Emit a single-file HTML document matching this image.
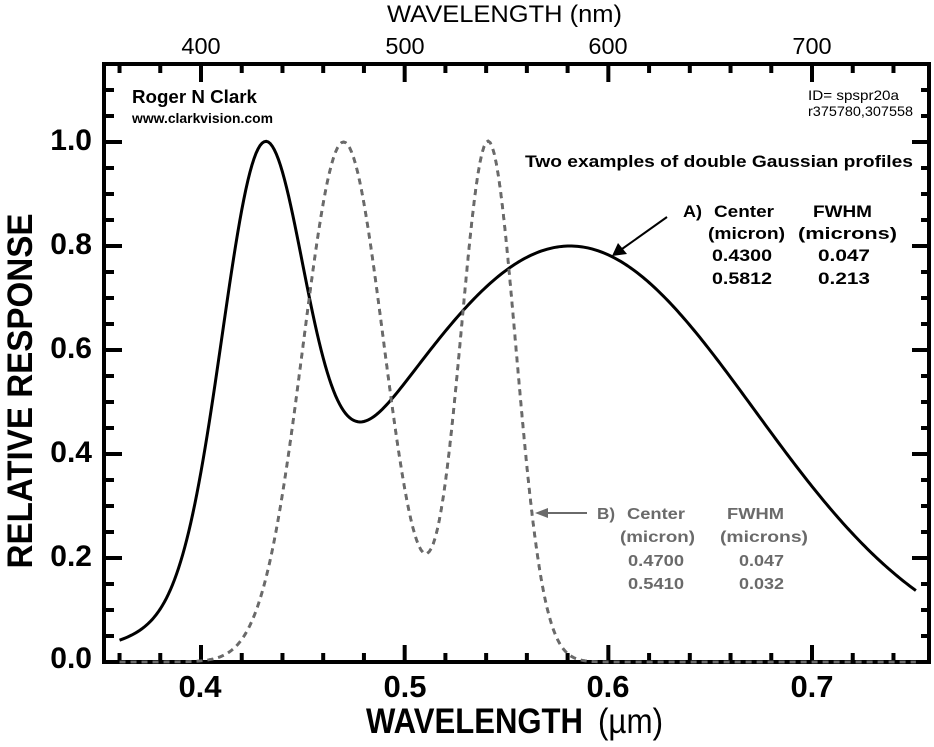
<!DOCTYPE html>
<html>
<head>
<meta charset="utf-8">
<style>
  html,body{margin:0;padding:0;background:#fff;}
  svg{display:block;}
  text{font-family:"Liberation Sans",Arial,Helvetica,sans-serif;}
  .b{font-weight:bold;}
</style>
</head>
<body>
<svg id="s" width="934" height="747" viewBox="0 0 934 747" xmlns="http://www.w3.org/2000/svg">
  <rect x="0" y="0" width="934" height="747" fill="#fff"/>
  <g id="ticks" stroke="#000" stroke-width="4" fill="none"></g>
  <path id="curveB" d="" fill="none" stroke="#6a6a6a" stroke-width="2.8" stroke-dasharray="6 5"/>
  <path id="curveA" d="" fill="none" stroke="#000" stroke-width="3"/>
  <rect x="104" y="64" width="825" height="598" fill="none" stroke="#000" stroke-width="4"/>
  <g id="bdash"></g>

  <!-- top axis -->
  <text x="387" y="22" font-size="24" textLength="235" lengthAdjust="spacingAndGlyphs">WAVELENGTH (nm)</text>
  <text x="201" y="54" font-size="23.5" text-anchor="middle">400</text>
  <text x="405" y="54" font-size="23.5" text-anchor="middle">500</text>
  <text x="608" y="54" font-size="23.5" text-anchor="middle">600</text>
  <text x="812" y="54" font-size="23.5" text-anchor="middle">700</text>

  <!-- bottom axis -->
  <text class="b" x="200" y="697" font-size="31" text-anchor="middle">0.4</text>
  <text class="b" x="405" y="697" font-size="31" text-anchor="middle">0.5</text>
  <text class="b" x="608" y="697" font-size="31" text-anchor="middle">0.6</text>
  <text class="b" x="812" y="697" font-size="31" text-anchor="middle">0.7</text>
  <text class="b" x="366" y="733" font-size="35" textLength="217" lengthAdjust="spacingAndGlyphs">WAVELENGTH</text>
  <text x="598" y="733" font-size="35" textLength="65" lengthAdjust="spacingAndGlyphs">(µm)</text>

  <!-- left axis -->
  <text class="b" x="92" y="150" font-size="30" text-anchor="end">1.0</text>
  <text class="b" x="92" y="254" font-size="30" text-anchor="end">0.8</text>
  <text class="b" x="92" y="358" font-size="30" text-anchor="end">0.6</text>
  <text class="b" x="92" y="462" font-size="30" text-anchor="end">0.4</text>
  <text class="b" x="92" y="566" font-size="30" text-anchor="end">0.2</text>
  <text class="b" x="92" y="668" font-size="30" text-anchor="end">0.0</text>
  <text class="b" transform="translate(32,391) rotate(-90)" font-size="35" text-anchor="middle" textLength="355" lengthAdjust="spacingAndGlyphs">RELATIVE RESPONSE</text>

  <!-- annotations -->
  <text class="b" x="132" y="103" font-size="18" textLength="125" lengthAdjust="spacingAndGlyphs">Roger N Clark</text>
  <text class="b" x="132" y="123" font-size="13.5" textLength="141" lengthAdjust="spacingAndGlyphs">www.clarkvision.com</text>
  <text x="808" y="100" font-size="14" textLength="91" lengthAdjust="spacingAndGlyphs">ID= spspr20a</text>
  <text x="808" y="116" font-size="14" textLength="105" lengthAdjust="spacingAndGlyphs">r375780,307558</text>
  <text class="b" x="525" y="167" font-size="17" textLength="388" lengthAdjust="spacingAndGlyphs">Two examples of double Gaussian profiles</text>

  <!-- legend A -->
  <g class="b" font-size="16.5" fill="#000">
    <text x="683" y="217" textLength="19" lengthAdjust="spacingAndGlyphs">A)</text>
    <text x="714" y="217" textLength="60" lengthAdjust="spacingAndGlyphs">Center</text>
    <text x="813" y="217" textLength="59" lengthAdjust="spacingAndGlyphs">FWHM</text>
    <text x="708" y="239" textLength="77" lengthAdjust="spacingAndGlyphs">(micron)</text>
    <text x="798" y="239" textLength="99" lengthAdjust="spacingAndGlyphs">(microns)</text>
    <text x="712" y="261" textLength="60" lengthAdjust="spacingAndGlyphs">0.4300</text>
    <text x="818" y="261" textLength="52" lengthAdjust="spacingAndGlyphs">0.047</text>
    <text x="712" y="284" textLength="60" lengthAdjust="spacingAndGlyphs">0.5812</text>
    <text x="818" y="284" textLength="52" lengthAdjust="spacingAndGlyphs">0.213</text>
  </g>
  <line x1="667" y1="217" x2="622" y2="249" stroke="#000" stroke-width="2"/>
  <polygon points="612,256 618,243 627,254" fill="#000"/>

  <!-- legend B -->
  <g class="b" font-size="16" fill="#6a6a6a">
    <text x="597" y="519" textLength="18" lengthAdjust="spacingAndGlyphs">B)</text>
    <text x="627" y="519" textLength="58" lengthAdjust="spacingAndGlyphs">Center</text>
    <text x="727" y="519" textLength="57" lengthAdjust="spacingAndGlyphs">FWHM</text>
    <text x="620" y="542" textLength="75" lengthAdjust="spacingAndGlyphs">(micron)</text>
    <text x="720" y="542" textLength="88" lengthAdjust="spacingAndGlyphs">(microns)</text>
    <text x="628" y="566" textLength="56" lengthAdjust="spacingAndGlyphs">0.4700</text>
    <text x="739" y="566" textLength="45" lengthAdjust="spacingAndGlyphs">0.047</text>
    <text x="628" y="589" textLength="56" lengthAdjust="spacingAndGlyphs">0.5410</text>
    <text x="739" y="589" textLength="45" lengthAdjust="spacingAndGlyphs">0.032</text>
  </g>
  <line x1="587" y1="513" x2="546" y2="513" stroke="#6a6a6a" stroke-width="2"/>
  <polygon points="535,513 548,508 548,518" fill="#6a6a6a"/>
</svg>
<script>
(function(){
  var X=function(u){return 201+(u-0.4)*2036.7;};
  var Y=function(v){return 662-v*520;};
  function G(x,c,f){var s=f/2.35482;var z=(x-c)/s;return Math.exp(-0.5*z*z);}
  var dA="",dB="";
  for(var i=0;i<=391;i++){
    var u=0.36+i*0.001;
    var a=0.8*(G(u,0.43,0.047)+G(u,0.5812,0.213));
    var b=G(u,0.47,0.047)+G(u,0.541,0.032);
    dA+=(i?"L":"M")+X(u).toFixed(2)+","+Y(a).toFixed(2);
    dB+=(i?"L":"M")+X(u).toFixed(2)+","+Math.min(Y(b),662.5).toFixed(2);
  }
  document.getElementById("curveA").setAttribute("d",dA);
  document.getElementById("curveB").setAttribute("d",dB);
  // dashed B on top of the frame (bottom axis)
  var ns="http://www.w3.org/2000/svg";
  var bd=document.createElementNS(ns,"path");
  bd.setAttribute("d",dB);bd.setAttribute("fill","none");bd.setAttribute("stroke","#6a6a6a");
  bd.setAttribute("stroke-width","2.8");bd.setAttribute("stroke-dasharray","6 5");
  document.getElementById("bdash").appendChild(bd);
  var g=document.getElementById("ticks");
  function line(x1,y1,x2,y2){var l=document.createElementNS(ns,"line");
    l.setAttribute("x1",x1);l.setAttribute("y1",y1);l.setAttribute("x2",x2);l.setAttribute("y2",y2);g.appendChild(l);}
  for(var k=0;k<=19;k++){
    var u=0.36+0.02*k; var x=X(u);
    var maj=(k===2||k===7||k===12||k===17);
    line(x,662,x,maj?645:653);
    line(x,64,x,maj?82:73);
  }
  for(var j=1;j<=23;j++){
    var v=0.05*j; var y=Y(v);
    var maj=(j%4===0);
    line(104,y,maj?122:114,y);
    line(929,y,maj?912:921,y);
  }
})();
</script>
</body>
</html>
